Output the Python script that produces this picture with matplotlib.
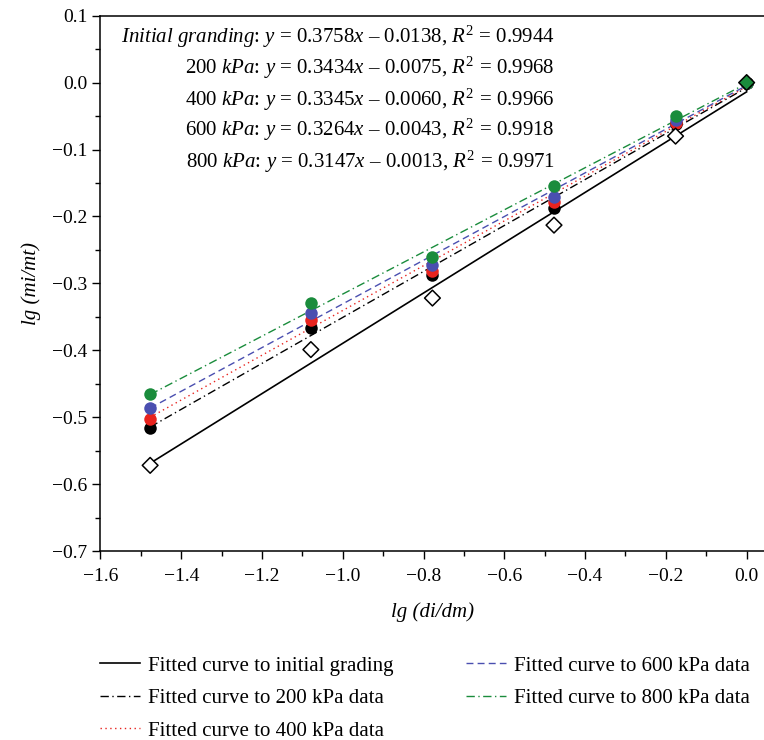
import numpy as np
import matplotlib
matplotlib.use("Agg")
import matplotlib.pyplot as plt
from matplotlib.ticker import MultipleLocator, FuncFormatter

plt.rcParams["font.family"] = ["Liberation Serif", "DejaVu Serif"]
plt.rcParams["mathtext.fontset"] = "custom"
plt.rcParams["mathtext.rm"] = "Liberation Serif"
plt.rcParams["mathtext.it"] = "Liberation Serif:italic"

# lg(di/dm) of the sieve sizes
x = [-1.477, -1.079, -0.778, -0.477, -0.176, 0.0]

# lg(mi/mt)
y_init = [-0.572, -0.399, -0.322, -0.213, -0.080, 0.0]
y_200 = [-0.516, -0.366, -0.288, -0.187, -0.062, 0.0]
y_400 = [-0.502, -0.355, -0.281, -0.178, -0.060, 0.0]
y_600 = [-0.487, -0.344, -0.273, -0.171, -0.056, 0.0]
y_800 = [-0.466, -0.329, -0.261, -0.155, -0.050, 0.0]

# fitted lines y = k*x + b
fit_k = [0.3758, 0.3434, 0.3345, 0.3264, 0.3147]
fit_b = [-0.0138, -0.0075, -0.0060, -0.0043, -0.0013]
fit_r2 = [0.9944, 0.9968, 0.9966, 0.9918, 0.9971]
fit_names = [r"$Initial\ granding$", r"200 $kPa$", r"400 $kPa$", r"600 $kPa$", r"800 $kPa$"]
legend_labels = ["Fitted curve to initial grading",
                 "Fitted curve to 200 kPa data",
                 "Fitted curve to 400 kPa data",
                 "Fitted curve to 600 kPa data",
                 "Fitted curve to 800 kPa data"]

colors = ["black", "black", "#e8231e", "#4a4fb0", "#1a8c3c"]
styles = ["-", (0, (6, 2.5, 1, 2.5)), (0, (1, 2.5)), (0, (5, 3)), (0, (6, 2.5, 1, 2.5))]
widths = [1.2, 1.0, 1.0, 1.0, 1.0]

fig = plt.figure(figsize=(7.64, 7.40), dpi=100)
ax = fig.add_axes([0.1315, 0.2554, 0.8685, 0.7234])

xs = np.array([x[0], x[-1]])
lines = []
for k, b, c, ls, lw, lab in zip(fit_k, fit_b, colors, styles, widths, legend_labels):
    ln, = ax.plot(xs, k * xs + b, color=c, ls=ls, lw=lw, label=lab, zorder=2)
    lines.append(ln)

for ys, c in zip([y_200, y_400, y_600, y_800], colors[1:]):
    ax.plot(x, ys, "o", color=c, ms=9, mec="none", zorder=3)

face = ["white"] * (len(x) - 1) + [colors[4]]
ax.scatter(x, y_init, marker="D", s=64, facecolors=face, edgecolors="black",
           linewidths=1.1, zorder=4)


def fmt(v, pos):
    s = "%.1f" % v
    if s == "-0.0":
        s = "0.0"
    return s.replace("-", "\u2212")


ax.set_xlim(-1.6, 0.043)
ax.set_ylim(-0.7, 0.1)
ax.xaxis.set_major_locator(MultipleLocator(0.2))
ax.xaxis.set_minor_locator(MultipleLocator(0.1))
ax.yaxis.set_major_locator(MultipleLocator(0.1))
ax.yaxis.set_minor_locator(MultipleLocator(0.05))
ax.xaxis.set_major_formatter(FuncFormatter(fmt))
ax.yaxis.set_major_formatter(FuncFormatter(fmt))
ax.tick_params(which="major", direction="out", length=6, width=1.0, labelsize=14, top=False, right=False)
ax.tick_params(which="minor", direction="out", length=3.5, width=1.0, top=False, right=False)
ax.tick_params(axis="x", pad=6)
ax.spines["right"].set_visible(False)
for s in ["left", "bottom", "top"]:
    ax.spines[s].set_linewidth(1.1)

ax.set_xlabel("lg (di/dm)", fontsize=15, fontstyle="italic", labelpad=13)
ax.set_ylabel("lg (mi/mt)", fontsize=15, fontstyle="italic", labelpad=8)

ys_txt = [37, 68, 100, 130, 162]
for name, k, b, r2, yp in zip(fit_names, fit_k, fit_b, fit_r2, ys_txt):
    s = name + r": $y$ = %.4f$x$ – %.4f, $R^2$ = %.4f" % (k, abs(b), r2)
    fig.text(555 / 764, 1 - yp / 740, s, ha="right", va="center", fontsize=15)

fig.legend(handles=lines, ncol=2, loc="upper left", bbox_to_anchor=(100 / 764, 1 - 656 / 740),
           bbox_transform=fig.transFigure, frameon=False, fontsize=15,
           borderpad=0, borderaxespad=0, handlelength=1.9, handletextpad=0.4,
           columnspacing=3.5, labelspacing=0.62)

fig.savefig("out.png", dpi=100)
